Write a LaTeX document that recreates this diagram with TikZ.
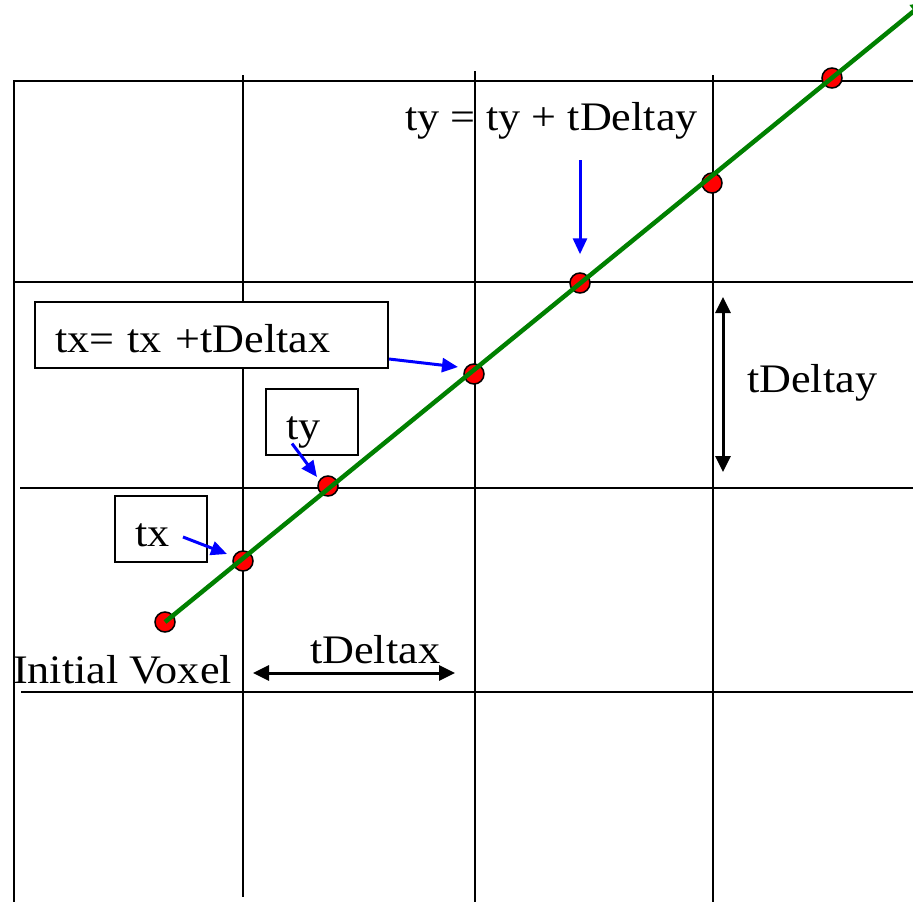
\documentclass[tikz,border=0pt]{standalone}
\usepackage{fontspec}
\setmainfont{Liberation Serif}[FakeStretch=1.09]
\usetikzlibrary{arrows.meta}

\begin{document}
\begin{tikzpicture}[x=1pt, y=-1pt, font=\fontsize{40.5}{48}\selectfont,
  grid/.style={line width=2pt},
  voxel/.style={circle, draw, fill=red, line width=1.5pt, minimum size=20pt, inner sep=0pt},
  ray/.style={-{Triangle[length=14pt,width=14pt]}, green!50!black, line width=4.5pt},
  callout/.style={draw, fill=white, line width=2pt, align=left, inner xsep=20pt, inner ysep=0pt, minimum height=66pt, text height=35pt, text depth=0pt},
  lbl/.style={anchor=base west, inner sep=0pt},
  pointer/.style={-{Triangle[length=16pt,width=14pt]}, blue, line width=3pt},
  span/.style={{Triangle[length=16pt,width=15pt]}-{Triangle[length=16pt,width=15pt]}, line width=3pt}]
  \useasboundingbox (0,0) rectangle (913,902);
  \draw[grid] (14,80) -- (14,902) (243,75) -- (243,897) (475,71) -- (475,902) (713,75) -- (713,902);
  \draw[grid] (14,81) -- (913,81) (14,282) -- (913,282) (20,488) -- (913,488) (21,692) -- (913,692);

  \foreach \px/\py [count=\i from 0] in {165/622, 243/561, 328/486, 474/374, 580/283, 712/183, 832/78}
    \node[voxel] (p\i) at (\px,\py) {};
  \coordinate (rayend) at (925,2);
  \draw[ray] (p0.center) -- (rayend);

  \node[callout, text width=313pt] (stepx) at (211.5,335) {tx= tx +tDeltax};
  \node[callout, text width=52pt] (firsty) at (312,421.5) {ty};
  \node[callout, text width=52pt] (firstx) at (161,528.5) {tx};

  \node[lbl] (stepy) at (405,130) {ty = ty + tDeltay};
  \node[lbl] (dylabel) at (747,392) {tDeltay};
  \node[lbl] (dxlabel) at (310,663) {tDeltax};
  \node[lbl] (start) at (13,683) {Initial Voxel};

  \draw[pointer] ([yshift=-24pt]stepx.east) -- ([xshift=-16pt,yshift=7pt]p3.center);
  \draw[pointer] ([xshift=-20pt,yshift=12pt]firsty.south) -- ([xshift=-11pt,yshift=9pt]p2.center);
  \draw[pointer] ([xshift=-25pt,yshift=-8.5pt]firstx.east) -- ([xshift=-16pt,yshift=7pt]p1.center);
  \coordinate (drop) at (580,160);
  \draw[pointer] (drop) -- ([yshift=18pt]p4.north);

  \coordinate (dytop) at (723,297);
  \coordinate (dybot) at (723,472);
  \draw[span] (dytop) -- (dybot);
  \coordinate (dxleft) at (253,673);
  \coordinate (dxright) at (455,673);
  \draw[span] (dxleft) -- (dxright);
\end{tikzpicture}
\end{document}
